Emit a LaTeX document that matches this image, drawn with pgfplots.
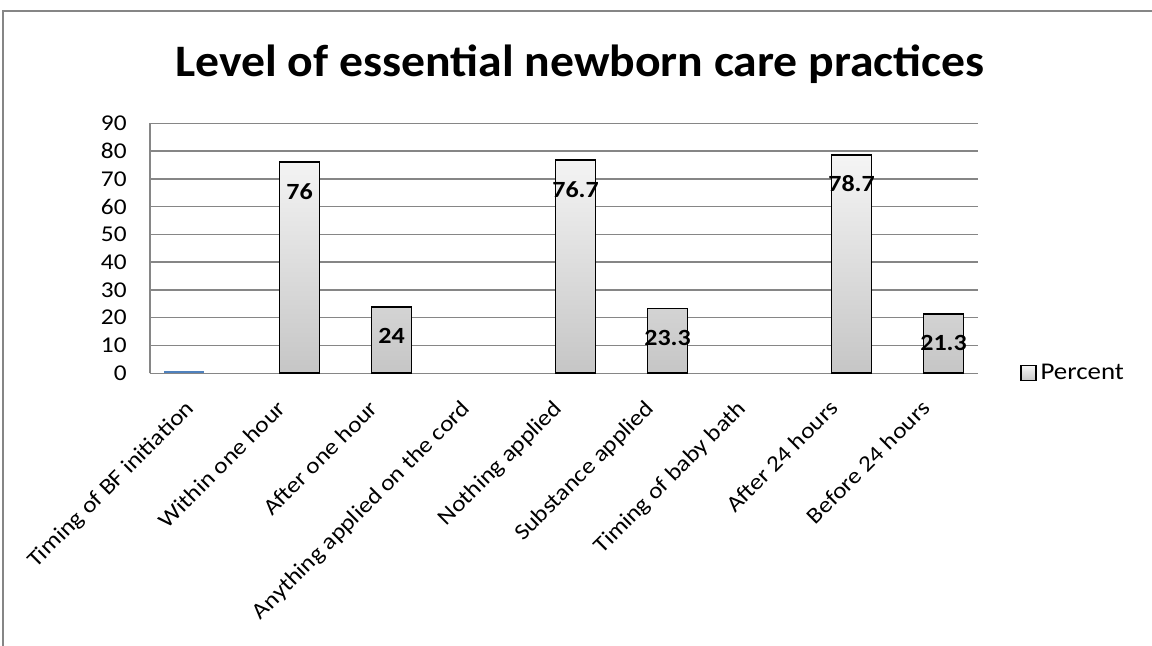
\documentclass[border=0pt]{standalone}
\usepackage{fontspec}
\setmainfont[FakeStretch=1.12]{Carlito}
\newfontfamily\titlefont[FakeStretch=1.06]{Carlito}
\usepackage{pgfplots}
\pgfplotsset{compat=1.18}
\definecolor{gridgray}{HTML}{868686}
\definecolor{serblue}{HTML}{4F81BD}

\begin{document}
\begin{tikzpicture}
\path[use as bounding box] (0,0) rectangle (576pt,323pt);
% chart frame
\draw[gridgray, line width=0.6pt] (1.5pt,0) -- (1.5pt,317.5pt) -- (576pt,317.5pt);
% title
\node[font=\titlefont\fontsize{22.5}{27}\selectfont\bfseries, anchor=base, inner sep=0pt]
  at (290pt,284.5pt) {Level of essential newborn care practices};

\begin{axis}[
  at={(75pt,136.35pt)}, anchor=south west,
  scale only axis, width=414pt, height=125pt,
  xmin=-0.5, xmax=8.5, ymin=0, ymax=90,
  ytick={0,10,...,90},
  xtick={0,...,8},
  xticklabels={Timing of BF initiation, Within one hour, After one hour,
    Anything applied on the cord, Nothing applied, Substance applied,
    Timing of baby bath, After 24 hours, Before 24 hours},
  /pgf/number format/assume math mode=true,
  major tick length=0pt,
  axis x line*=bottom, axis y line*=left,
  axis line style={-, gridgray, line width=0.75pt},
  ymajorgrids, grid style={gridgray, line width=0.75pt},
  yticklabel style={font=\fontsize{11.3}{13}\selectfont, anchor=east, inner sep=0pt, xshift=-11.5pt},
  xticklabel style={font=\fontsize{11.3}{13}\selectfont, inner sep=0pt,
    xshift=-6pt, yshift=-12.5pt, rotate=45, anchor=north east},
  legend style={draw=none, fill=none, at={(1,0)}, anchor=west, xshift=21pt,
    inner sep=0pt, nodes={inner sep=2pt}, font=\fontsize{12}{14}\selectfont},
  legend image code/.code={\draw[#1, line width=0.6pt] (0pt,-3.75pt) rectangle (7.5pt,3.75pt);},
]
% header row of the first group
\addplot[ybar, bar width=20pt, bar shift=-5.8pt, fill=serblue, draw=none, forget plot]
  coordinates {(0,1)};
% percentages
\addplot[ybar, bar width=20pt, bar shift=5.8pt, draw=black, line width=0.9pt,
  top color=gray!8, bottom color=gray!45,
  nodes near coords,
  every node near coord/.append style={font=\fontsize{11.6}{14}\selectfont\bfseries,
    anchor=center, xshift=5.8pt, yshift=-14.5pt, text=black}]
  coordinates {(1,76) (2,24) (4,76.7) (5,23.3) (7,78.7) (8,21.3)};
\addlegendentry{Percent}
\end{axis}
\end{tikzpicture}
\end{document}
